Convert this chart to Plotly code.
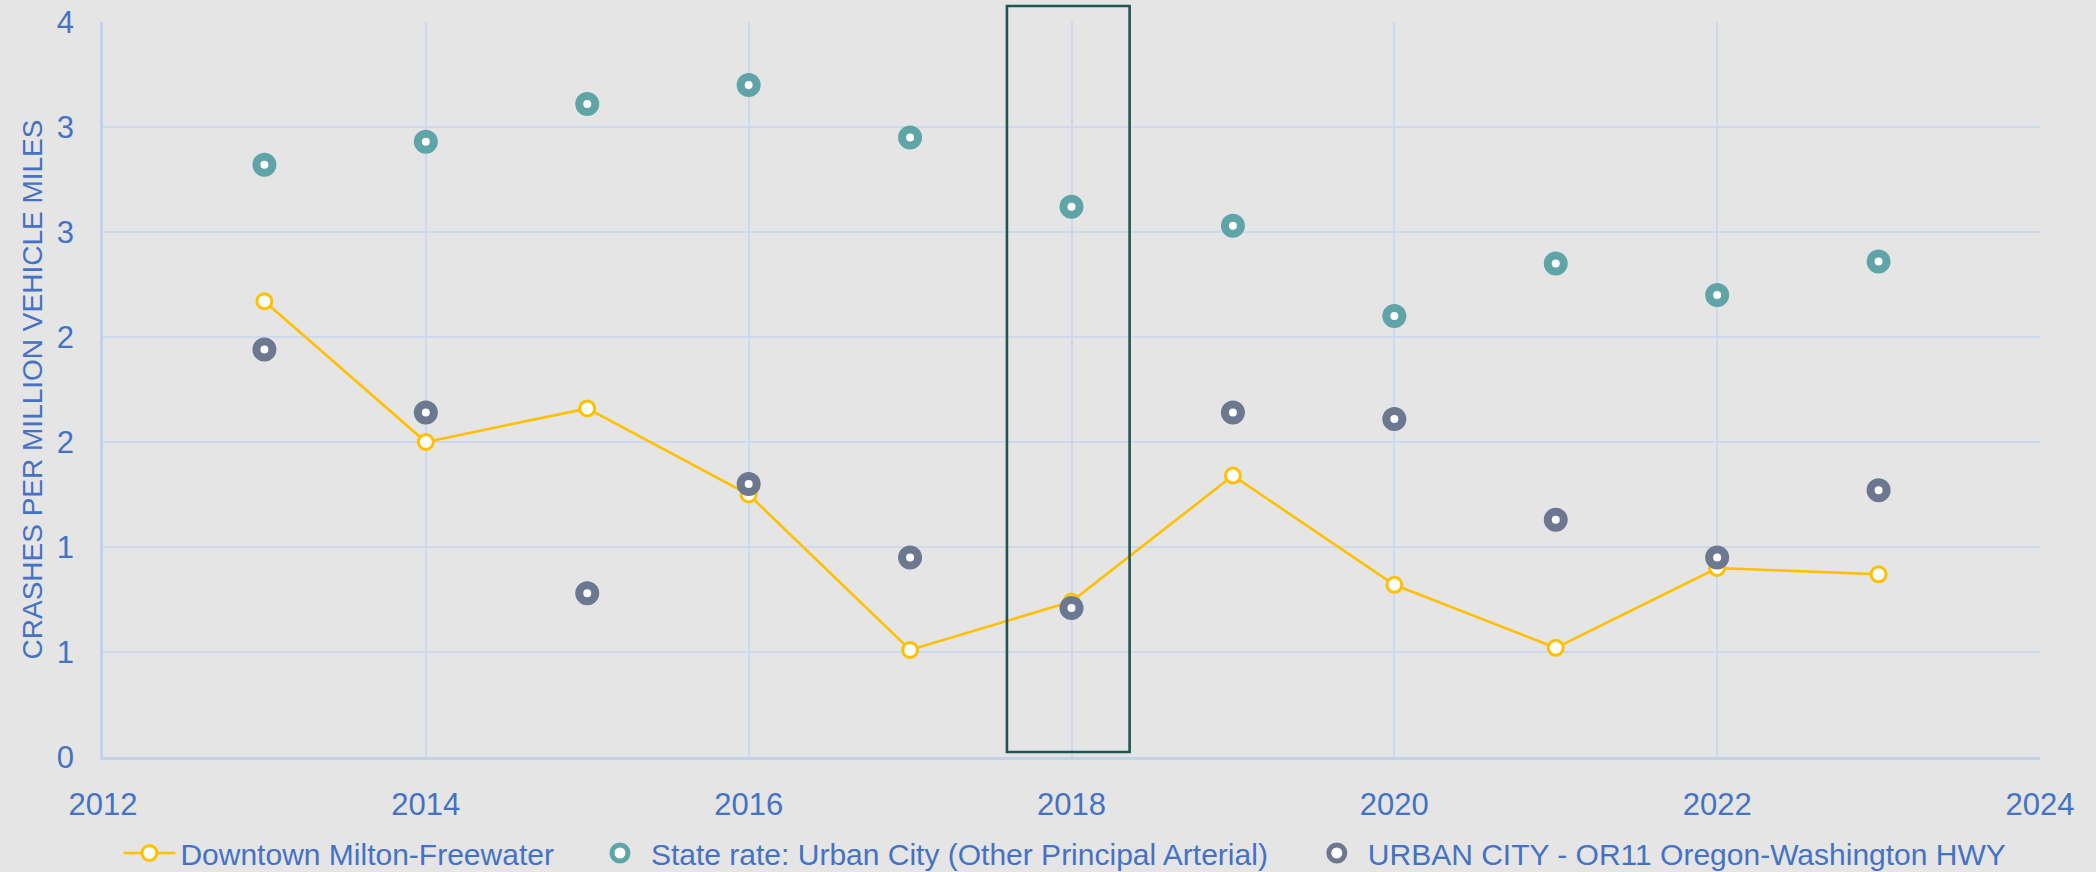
import plotly.graph_objects as go

years = [2013, 2014, 2015, 2016, 2017, 2018, 2019, 2020, 2021, 2022, 2023]
downtown = [2.17, 1.50, 1.66, 1.25, 0.51, 0.74, 1.34, 0.82, 0.52, 0.90, 0.87]
state_rate = [2.82, 2.93, 3.11, 3.20, 2.95, 2.62, 2.53, 2.10, 2.35, 2.20, 2.36]
urban_city = [1.94, 1.64, 0.78, 1.30, 0.95, 0.71, 1.64, 1.61, 1.13, 0.95, 1.27]

series_names = [
    "Downtown Milton-Freewater",
    "State rate: Urban City (Other Principal Arterial)",
    "URBAN CITY - OR11 Oregon-Washington HWY",
]
y_tickvals = [0, 0.5, 1, 1.5, 2, 2.5, 3, 3.5]
y_ticktext = ["0", "1", "1", "2", "2", "3", "3", "4"]
x_tickvals = [2012, 2014, 2016, 2018, 2020, 2022, 2024]
x_range = [2012, 2024]
y_range = [0, 3.5]
highlight_x = [2017.60, 2018.36]
highlight_y = [0.024, 3.576]

TXT = "#4472c4"
GRID = "#ccd9ef"
AXIS = "#c2d2ec"
BG = "#e5e5e5"
FONT = "Liberation Sans"

fig = go.Figure()
fig.add_trace(go.Scatter(
    x=years, y=downtown, name=series_names[0], mode="lines+markers",
    line=dict(color="#ffc000", width=2.6),
    marker=dict(symbol="circle", size=15, color="white",
                line=dict(color="#ffc000", width=3)),
    legend="legend",
))
fig.add_trace(go.Scatter(
    x=years, y=state_rate, name=series_names[1], mode="markers",
    marker=dict(symbol="circle", size=16, color="white",
                line=dict(color="#5fa4a7", width=8)),
    legend="legend2",
))
fig.add_trace(go.Scatter(
    x=years, y=urban_city, name=series_names[2], mode="markers",
    marker=dict(symbol="circle", size=16, color="white",
                line=dict(color="#6b7890", width=8)),
    legend="legend3",
))

# highlight box (domain refs so it may extend beyond the plot area)
def xd(v):
    return (v - x_range[0]) / (x_range[1] - x_range[0])

def yd(v):
    return (v - y_range[0]) / (y_range[1] - y_range[0])

fig.add_shape(type="rect", xref="x domain", yref="y domain",
              x0=xd(highlight_x[0]), x1=xd(highlight_x[1]),
              y0=yd(highlight_y[0]), y1=yd(highlight_y[1]),
              line=dict(color="#205552", width=2.6), fillcolor="rgba(0,0,0,0)")

legend_common = dict(orientation="h", xref="container", yref="container",
                     xanchor="left", yanchor="middle", y=0.0218,
                     font=dict(size=30, color=TXT, family=FONT),
                     bgcolor="rgba(0,0,0,0)", itemwidth=52)

fig.update_layout(
    width=2096, height=872,
    paper_bgcolor=BG, plot_bgcolor=BG,
    margin=dict(l=103, r=56, t=22, b=115),
    font=dict(family=FONT, color=TXT, size=30),
    showlegend=True,
    legend=dict(x=0.0565, **legend_common),
    legend2=dict(x=0.281, **legend_common),
    legend3=dict(x=0.623, **legend_common),
)
fig.update_xaxes(
    range=x_range, tickvals=x_tickvals, tickformat="d",
    showgrid=True, gridcolor=GRID, gridwidth=2,
    showline=True, linecolor=AXIS, linewidth=2.5, mirror=False,
    zeroline=False, ticks="", ticklabelstandoff=18, automargin=False,
    tickfont=dict(size=31, color=TXT, family=FONT),
)
fig.update_yaxes(
    range=y_range, tickvals=y_tickvals, ticktext=y_ticktext,
    showgrid=True, gridcolor=GRID, gridwidth=2,
    showline=True, linecolor=AXIS, linewidth=2.5,
    zeroline=False, ticks="", ticklabelstandoff=20, automargin=False,
    tickfont=dict(size=31, color=TXT, family=FONT),
    title=dict(text="CRASHES PER MILLION VEHICLE MILES",
               font=dict(size=28, color=TXT, family=FONT), standoff=6),
)

fig.write_html(
    "out.html",
    config={"displayModeBar": False},
    post_script="document.body.style.margin='0';document.body.style.background='#e5e5e5';",
)
